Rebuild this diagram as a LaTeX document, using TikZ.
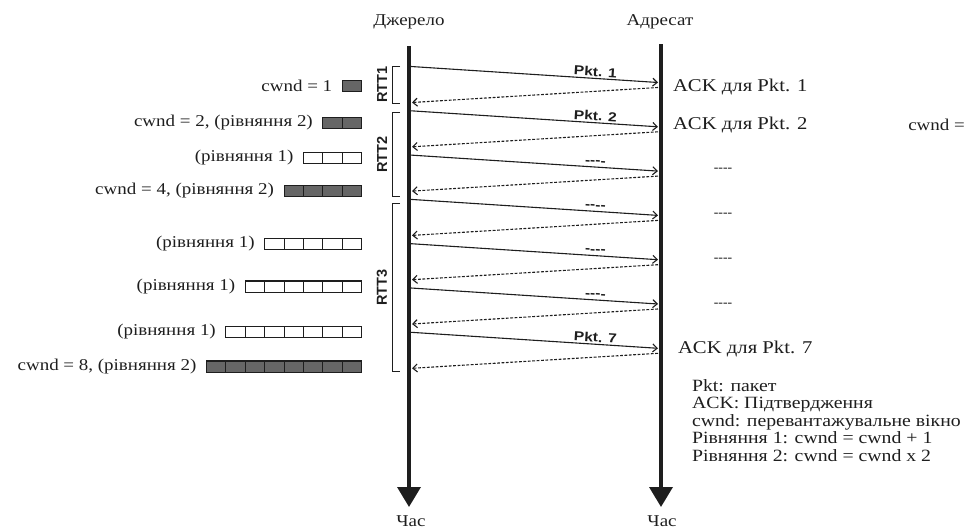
\documentclass[tikz,border=0pt]{standalone}
\usepackage{fontspec}
\setmainfont{Liberation Serif}[FakeStretch=1.15]
\newfontfamily\pktsans{Liberation Sans}[FakeStretch=1.2]
\newfontfamily\rttsans{Liberation Sans}
\usetikzlibrary{arrows.meta,positioning}
\definecolor{ink}{HTML}{1E1E1E}
\definecolor{winfill}{HTML}{666666}

\begin{document}
\begin{tikzpicture}[x=1pt,y=-1pt,
  every node/.style={font=\fontsize{16.5}{19}\selectfont,text=ink},
  timeline/.style={line width=3.6pt,draw=ink,-{Triangle[width=23pt,length=20pt]}},
  pkt/.style={line width=1.1pt,draw=ink,-{Straight Barb[length=4.5pt,width=8pt]}},
  ack/.style={pkt,dash pattern=on 2.8pt off 1.6pt},
  pktlabel/.style={font=\pktsans\bfseries\fontsize{13}{15}\selectfont,sloped,above,inner sep=1.5pt},
  cell/.style={draw=ink,line width=1.1pt,minimum width=19.4pt,minimum height=11.5pt,inner sep=0pt},
  rtt/.style={draw=ink,line width=1pt},
  rttlabel/.style={font=\rttsans\bfseries\fontsize{14.5}{16}\selectfont,rotate=90,anchor=south,inner sep=4.5pt},
  recv/.style={anchor=west,font=\fontsize{18}{20}\selectfont}]

  \useasboundingbox (0,0) rectangle (967,530);

  % hosts and time axes
  \node (src) at (409,22) {Джерело};
  \node (dst) at (660,22) {Адресат};
  \coordinate (srcTop) at (409,46);
  \coordinate (srcEnd) at (409,507);
  \coordinate (dstTop) at (661,44);
  \coordinate (dstEnd) at (661,507);
  \node (srcTime) at (411,521) {Час};
  \node (dstTime) at (662,521) {Час};
  \draw[timeline] (srcTop) -- (srcEnd);
  \draw[timeline] (dstTop) -- (dstEnd);

  % packets and acks
  \foreach \i/\lbl in {1/Pkt. 1,2/Pkt. 2,3/-{}-{}-{}-,4/-{}-{}-{}-,5/-{}-{}-{}-,6/-{}-{}-{}-,7/Pkt. 7}{
    \pgfmathsetmacro{\y}{66.5+44.3*(\i-1)}
    \coordinate (p\i) at (411,\y);
    \coordinate (q\i) at (658,\y+16);
    \coordinate (a\i) at (658,\y+21);
    \coordinate (b\i) at (412,\y+36);
    \draw[pkt] (p\i) -- node[pktlabel,pos=0.745] {\lbl} (q\i);
    \draw[ack] (a\i) -- (b\i);
  }

  % RTT brackets
  \foreach \i/\ya/\yb in {1/66/103,2/112.7/196.7,3/203.3/371.7}
    \draw[rtt] (400,\ya) -- (392,\ya) -- node[rttlabel] {RTT\i} (392,\yb) -- (400,\yb);

  % congestion window
  \foreach \row/\cnt/\y/\f/\txt in {1/1/86/winfill/{cwnd = 1},
      2/2/123/winfill/{cwnd = 2, (рівняння 2)},
      3/3/158/white/{(рівняння 1)},
      4/4/191/winfill/{cwnd = 4, (рівняння 2)},
      5/5/244/white/{(рівняння 1)},
      6/6/286.7/white/{(рівняння 1)},
      7/7/332/white/{(рівняння 1)},
      8/8/366.7/winfill/{cwnd = 8, (рівняння 2)}}{
    \foreach \k in {1,...,\cnt}
      \node[cell,fill=\f] (w\row-\k) at ({361.7-19.4*(\k-0.5)},\y) {};
    \node[left=6pt of w\row-\cnt] (t\row) {\txt};
  }

  % receiver side
  \node[recv] (ack1) at (669.5,87) {ACK для Pkt. 1};
  \node[recv] (ack2) at (669.5,125) {ACK для Pkt. 2};
  \node[anchor=east,inner sep=0pt] (cw) at (965,125) {cwnd =};
  \foreach \i/\y in {1/170,2/215,3/260,4/305}
    \node[font=\bfseries\fontsize{12}{14}\selectfont] (gap\i) at (723,\y) {-{}-{}-{}-};
  \node[recv] (ack7) at (674.5,349) {ACK для Pkt. 7};

  % legend
  \foreach \k/\txt in {1/{Pkt: пакет},2/{ACK: Підтвердження},3/{cwnd: перевантажувальне вікно},
      4/{Рівняння 1: cwnd = cwnd + 1},5/{Рівняння 2: cwnd = cwnd x 2}}
    \node[anchor=base west,font=\fontsize{17.2}{17.7}\selectfont] (key\k) at (688.5,{391+17.6*(\k-1)}) {\txt};
\end{tikzpicture}
\end{document}
